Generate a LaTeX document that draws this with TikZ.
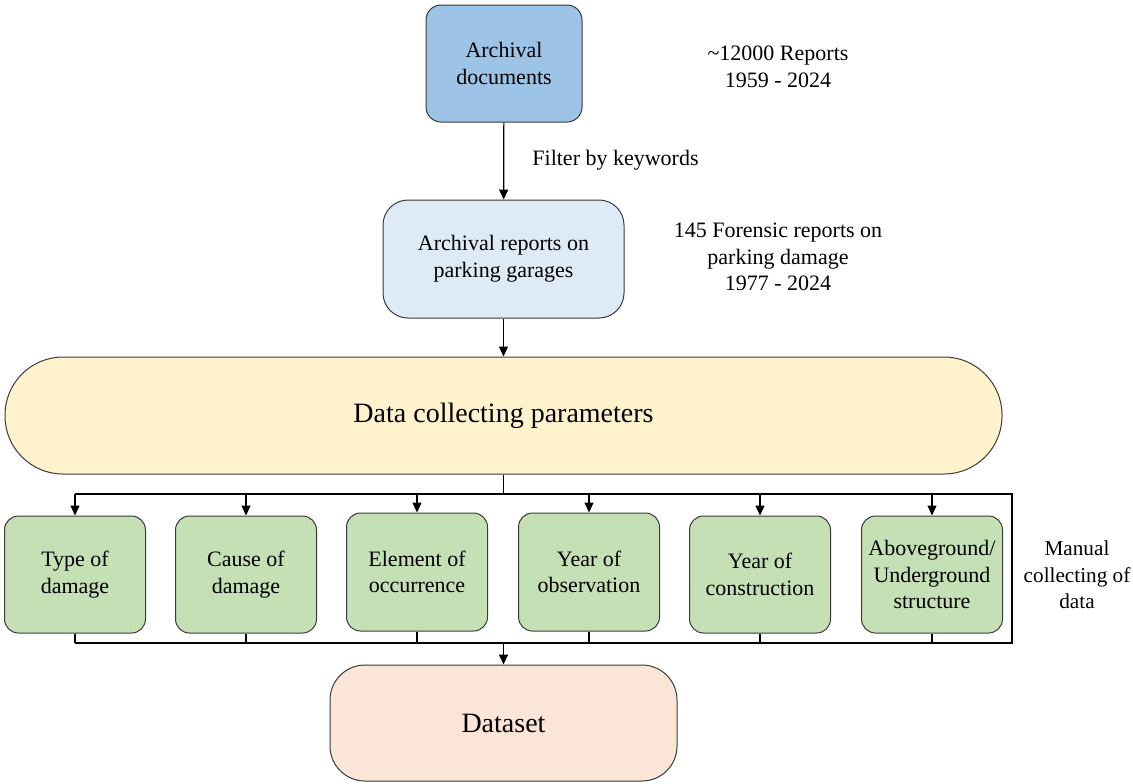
\documentclass[tikz,border=0pt]{standalone}
\usepackage{fontspec}
\setmainfont{Liberation Serif}
\usetikzlibrary{arrows.meta}
\definecolor{cA}{HTML}{9DC3E6}
\definecolor{cB}{HTML}{DEEBF7}
\definecolor{cC}{HTML}{FFF2CC}
\definecolor{cG}{HTML}{C5E0B4}
\definecolor{cD}{HTML}{FBE5D6}
\definecolor{bord}{HTML}{3A3A3A}
\tikzset{
  box/.style={draw=bord, line width=0.5pt, align=center, inner sep=0pt,
    font=\fontsize{11}{13.3}\selectfont},
  gbox/.style={box, fill=cG, minimum width=70.5pt, minimum height=58.5pt, rounded corners=7pt},
  note/.style={align=center, inner sep=0pt, font=\fontsize{11}{13.3}\selectfont},
  arr/.style={line width=0.6pt, -{Triangle[length=5pt,width=4.5pt]}},
  bus/.style={line width=0.9pt},
  thin/.style={line width=0.6pt}
}
\begin{document}
\begin{tikzpicture}[x=0.5pt, y=-0.5pt]
\useasboundingbox (0,0) rectangle (1133,783);
% main nodes
\node[box, fill=cA, minimum width=78pt, minimum height=58.5pt, rounded corners=7.5pt] (ad) at (504,63.5) {Archival\\documents};
\node[box, fill=cB, minimum width=120.5pt, minimum height=59pt, rounded corners=12.5pt] (ar) at (503.5,259) {Archival reports on\\parking garages};
\node[box, fill=cC, minimum width=498.5pt, minimum height=58.5pt, rounded corners=29pt, font=\fontsize{14}{17}\selectfont] (dcp) at (503.5,415.5) {Data collecting parameters};
\node[gbox] (g1) at (75,574.5) {Type of\\damage};
\node[gbox] (g2) at (246,574.5) {Cause of\\damage};
\node[gbox, minimum height=59pt] (g3) at (417,572) {Element of\\occurrence};
\node[gbox, minimum height=59pt] (g4) at (589,572) {Year of\\observation};
\node[gbox] (g5) at (760,574.5) {Year of\\construction};
\node[gbox] (g6) at (932,574.5) {Aboveground/\\Underground\\structure};
\node[box, fill=cD, minimum width=173.5pt, minimum height=58pt, rounded corners=17.5pt, font=\fontsize{14}{17}\selectfont] (ds) at (503.5,723) {Dataset};
% notes
\node[note] (n1) at (778,67) {\textasciitilde12000 Reports\\1959 - 2024};
\node[note, anchor=west] (n2) at (532,160) {Filter by keywords};
\node[note] (n3) at (778,257) {145 Forensic reports on\\parking damage\\1977 - 2024};
\node[note, font=\fontsize{10.6}{13.3}\selectfont] (n4) at (1077,575) {Manual\\collecting of\\data};
% bus coordinates
\coordinate (bt) at (503.5,494);
\coordinate (btr) at (1012,494);
\coordinate (bbr) at (1012,643);
\coordinate (bb) at (503.5,643);
% connectors
\draw[arr] (ad) -- (ar);
\draw[arr] (ar.south) -- (ar.south |- dcp.north);
\draw[bus] (dcp.south) -- (bt);
\draw[bus] (g1.north |- bt) -- (btr) -- (bbr) -- (g1.south |- bb);
\foreach \g in {g1,g2,g3,g4,g5,g6}{
  \draw[arr] (\g.north |- bt) -- (\g.north);
  \draw[thin] (\g.south) -- (\g.south |- bb);
}
\draw[arr, line width=0.9pt] (bb) -- (ds.north);
\end{tikzpicture}
\end{document}
